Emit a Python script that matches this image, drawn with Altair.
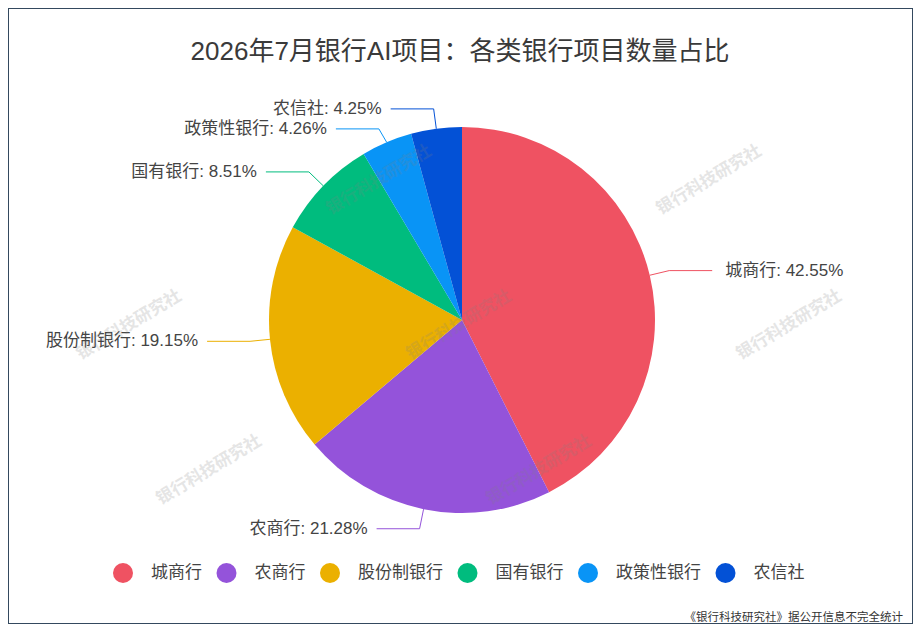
import math
import altair as alt
import pandas as pd

TITLE = "2026年7月银行AI项目：各类银行项目数量占比"
FOOTNOTE = "《银行科技研究社》据公开信息不完全统计"
WATERMARK = "银行科技研究社"

categories = ["城商行", "农商行", "股份制银行", "国有银行", "政策性银行", "农信社"]
shares = [42.55, 21.28, 19.15, 8.51, 4.26, 4.25]
colors = ["#EF5262", "#9453DA", "#EBB000", "#00BC7E", "#0994F6", "#0351D6"]

W, H = 905, 616
CX, CY, R = 454, 312, 193
FONT = "Liberation Sans, Noto Sans CJK SC, sans-serif"
TXT = "#444444"

pie_df = pd.DataFrame({"cat": categories, "share": shares, "idx": list(range(len(categories)))})

# leader-line geometry derived from the shares
total = sum(shares)
cum = 0.0
geo = []
for c, v in zip(categories, shares):
    mid = (cum + v / 2) / total * 2 * math.pi
    cum += v
    s, co = math.sin(mid), math.cos(mid)
    side = 1 if s > 0 else -1
    p0 = (CX + R * s, CY - R * co)
    p1 = [CX + (R + 20) * s, CY - (R + 20) * co]
    geo.append({"cat": c, "v": v, "side": side, "p0": p0, "p1": p1})

# simple overlap avoidance: push labels down on each side
for sd in (1, -1):
    items = sorted([g for g in geo if g["side"] == sd], key=lambda g: g["p1"][1])
    prev = None
    for g in items:
        if prev is not None and g["p1"][1] < prev + 20:
            g["p1"][1] = prev + 20
        prev = g["p1"][1]

line_rows, label_rows = [], []
for g in geo:
    sd = g["side"]
    p2 = (g["p1"][0] + sd * 43, g["p1"][1])
    for k, p in enumerate([g["p0"], g["p1"], p2]):
        line_rows.append({"cat": g["cat"], "k": k, "x": p[0], "y": p[1]})
    label_rows.append({"cat": g["cat"], "x": p2[0] + (13 if sd > 0 else -9), "y": p2[1],
                       "text": f"{g['cat']}: {g['v']:.2f}%", "side": sd})
line_df = pd.DataFrame(line_rows)
label_df = pd.DataFrame(label_rows)

# watermark tiling (only fully visible copies)
wm_rows = []
for r in range(-1, 5):
    ybase = 75 + 145 * r - 8
    for j in range(-1, 4):
        xbase = -105 + 80 * r + 330 * j - 8
        x, y = xbase + 74, ybase - 40
        if 60 < x < W - 60 and 40 < y < H - 40:
            wm_rows.append({"x": x, "y": y, "t": WATERMARK})
wm_df = pd.DataFrame(wm_rows)

xs = alt.Scale(domain=[0, W], nice=False, zero=False)
ys = alt.Scale(domain=[0, H], nice=False, zero=False, reverse=True)
cscale = alt.Scale(domain=categories, range=colors)
legend = alt.Legend(title=None, orient="none", legendX=105, legendY=555,
                    direction="horizontal", symbolType="circle",
                    symbolSize=400, symbolStrokeWidth=0, symbolOpacity=1,
                    labelFontSize=17, labelFont=FONT, labelColor=TXT,
                    labelOffset=18, columnPadding=14.5, padding=0, labelLimit=0)

lines = alt.Chart(line_df).mark_line(strokeWidth=1).encode(
    x=alt.X("x:Q", scale=xs, axis=None),
    y=alt.Y("y:Q", scale=ys, axis=None),
    color=alt.Color("cat:N", scale=cscale, sort=categories, legend=legend),
    detail="cat:N",
    order="k:Q",
)

pie = alt.Chart(pie_df).mark_arc(outerRadius=R).encode(
    theta=alt.Theta("share:Q", stack=True),
    color=alt.Color("cat:N", scale=cscale, sort=categories, legend=legend),
    order=alt.Order("idx:Q"),
    x=alt.value(CX),
    y=alt.value(CY),
)

lab_r = alt.Chart(label_df).transform_filter("datum.side > 0").mark_text(
    align="left", baseline="middle", fontSize=17, font=FONT, color=TXT
).encode(x=alt.X("x:Q", scale=xs, axis=None), y=alt.Y("y:Q", scale=ys, axis=None), text="text:N")

lab_l = alt.Chart(label_df).transform_filter("datum.side < 0").mark_text(
    align="right", baseline="middle", fontSize=17, font=FONT, color=TXT
).encode(x=alt.X("x:Q", scale=xs, axis=None), y=alt.Y("y:Q", scale=ys, axis=None), text="text:N")

wm = alt.Chart(wm_df).mark_text(
    align="center", baseline="middle", fontSize=17, fontWeight="bold", font=FONT,
    color="#808080", opacity=0.2, angle=329
).encode(x=alt.X("x:Q", scale=xs, axis=None), y=alt.Y("y:Q", scale=ys, axis=None), text="t:N")

title = alt.Chart(pd.DataFrame({"t": [TITLE]})).mark_text(
    align="center", baseline="middle", fontSize=26, font=FONT, color="#3a3a3a"
).encode(x=alt.value(452), y=alt.value(44), text="t:N")

foot = alt.Chart(pd.DataFrame({"t": [FOOTNOTE]})).mark_text(
    align="right", baseline="middle", fontSize=11.5, font=FONT, color="#333333"
).encode(x=alt.value(895), y=alt.value(610), text="t:N")

chart = alt.layer(lines, pie, lab_r, lab_l, wm, title, foot).properties(
    width=W, height=H, padding=0, autosize="none"
).configure_view(stroke="#34495e", strokeWidth=2)

chart.save("out.html", embed_options={"renderer": "svg", "actions": False})
